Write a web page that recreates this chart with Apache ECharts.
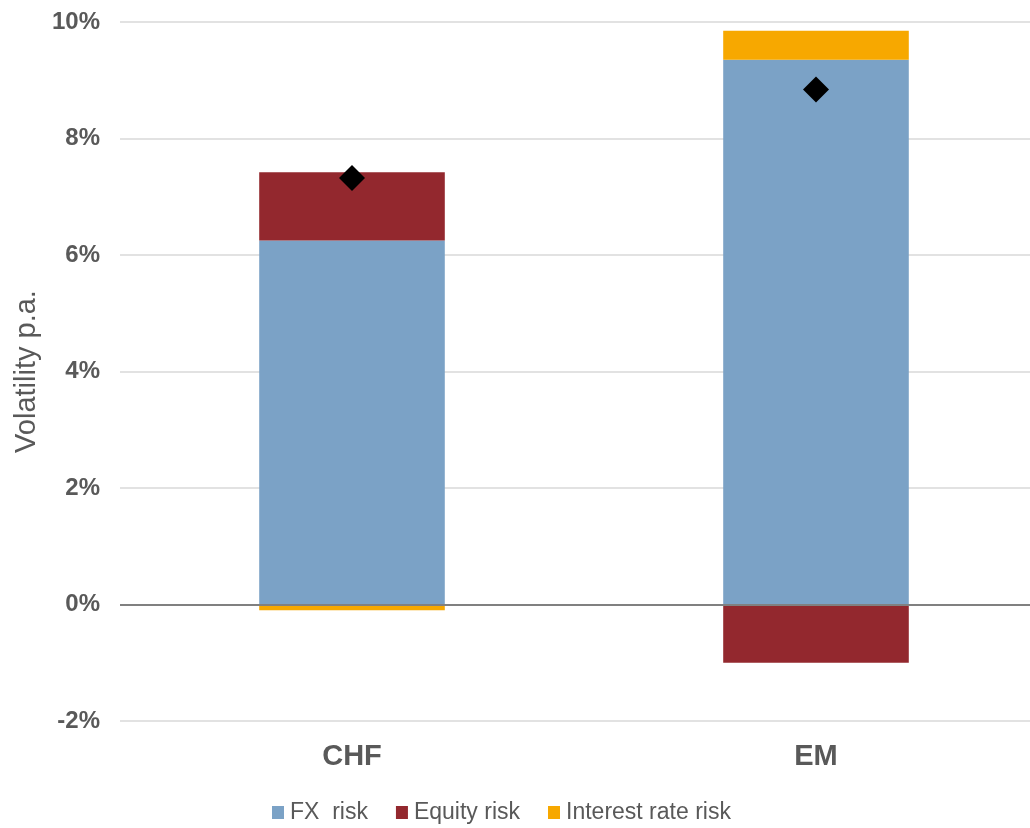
<!DOCTYPE html>
<html>
<head>
<meta charset="utf-8">
<script src="https://cdn.jsdelivr.net/npm/echarts@6/dist/echarts.min.js"></script>
<style>
  html, body { margin: 0; padding: 0; background: #fff; overflow: hidden; }
  /* canvas a bit wider than the window: the plot area runs past the right edge, as in the original */
  #chart { width: 1048px; height: 828px; }
</style>
</head>
<body>
<div id="chart"></div>
<script>
var categories = ["CHF", "EM"];
var fxRisk = [6.25, 9.35];
var equityRisk = [1.17, -1.0];
var interestRisk = [-0.1, 0.5];
var totalVol = [7.32, 8.84];
var yTicks = { min: -2, max: 10, step: 2 };

var font = "'Liberation Sans', Arial, sans-serif";
var textColor = "#595959";

var myChart = echarts.init(document.getElementById("chart"));

myChart.setOption({
  animation: false,
  textStyle: { fontFamily: font },
  grid: {
    left: 120,
    top: 22,
    bottom: 107,
    right: 0
  },
  legend: {
    data: ["FX  risk", "Equity risk", "Interest rate risk"],
    left: 267,
    top: 796,
    itemWidth: 12,
    itemHeight: 13,
    itemGap: 28,
    icon: "rect",
    textStyle: {
      fontFamily: font,
      fontSize: 23,
      color: textColor,
      padding: [0, 0, 0, 1]
    }
  },
  xAxis: {
    type: "category",
    data: categories,
    axisLine: { show: false, onZero: false },
    axisTick: { show: false },
    axisLabel: {
      fontFamily: font,
      fontSize: 29,
      fontWeight: "bold",
      color: textColor,
      margin: 21
    }
  },
  yAxis: {
    type: "value",
    min: yTicks.min,
    max: yTicks.max,
    interval: yTicks.step,
    name: "Volatility p.a.",
    nameLocation: "middle",
    nameGap: 79,
    nameTextStyle: {
      fontFamily: font,
      fontSize: 29,
      color: textColor
    },
    axisLine: { show: false },
    axisTick: { show: false },
    axisLabel: {
      formatter: "{value}%",
      fontFamily: font,
      fontSize: 24,
      fontWeight: "bold",
      color: textColor,
      margin: 20
    },
    splitLine: {
      lineStyle: { color: "#d9d9d9", width: 1.5 }
    }
  },
  series: [
    {
      name: "FX  risk",
      type: "bar",
      stack: "vol",
      barWidth: "40%",
      data: fxRisk,
      itemStyle: { color: "#7ba2c6" },
      markLine: {
        silent: true,
        symbol: "none",
        label: { show: false },
        lineStyle: { color: "#808080", width: 2, type: "solid" },
        data: [{ yAxis: 0 }]
      }
    },
    {
      name: "Equity risk",
      type: "bar",
      stack: "vol",
      data: equityRisk,
      itemStyle: { color: "#93282e" }
    },
    {
      name: "Interest rate risk",
      type: "bar",
      stack: "vol",
      data: interestRisk,
      itemStyle: { color: "#f7a800" }
    },
    {
      name: "Total",
      type: "scatter",
      symbol: "diamond",
      symbolSize: 26,
      z: 10,
      data: totalVol,
      itemStyle: { color: "#000000", opacity: 1 }
    }
  ]
});
</script>
</body>
</html>
